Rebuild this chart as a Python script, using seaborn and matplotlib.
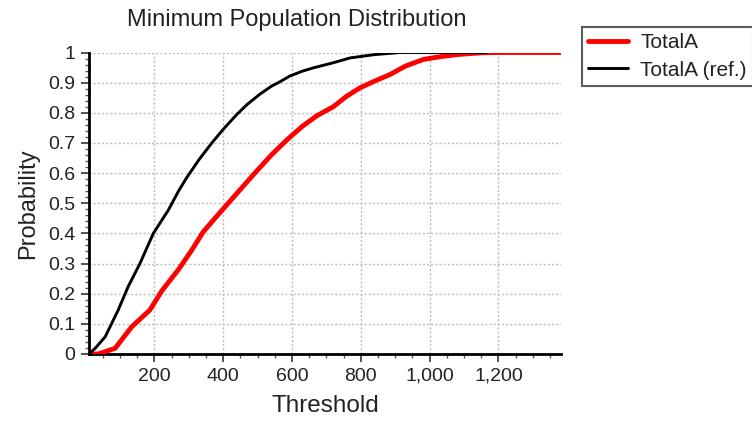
import matplotlib
matplotlib.use("Agg")
import matplotlib.pyplot as plt
import matplotlib.ticker as mticker
import seaborn as sns
import pandas as pd

# --- data ---
black_x = [10, 28, 57, 95, 124, 158, 197, 241, 270, 294, 330, 367, 400, 440, 470, 507,
           540, 565, 594, 630, 662, 720, 769, 840, 914, 1000, 1166]
black_y = [0, 0.019, 0.057, 0.146, 0.224, 0.30, 0.40, 0.478, 0.54, 0.585, 0.645, 0.70,
           0.745, 0.795, 0.828, 0.862, 0.888, 0.903, 0.922, 0.938, 0.949, 0.966, 0.982,
           0.993, 1.0, 1.0, 1.0]

red_x = [18, 37, 86, 134, 187, 222, 270, 309, 342, 376, 430, 488, 540, 585, 630, 672,
         720, 759, 798, 840, 885, 930, 982, 1030, 1079, 1147, 1200, 1382]
red_y = [0, 0, 0.019, 0.09, 0.146, 0.21, 0.28, 0.345, 0.405, 0.45, 0.52, 0.595, 0.66,
         0.71, 0.755, 0.79, 0.82, 0.855, 0.883, 0.905, 0.927, 0.955, 0.977, 0.986,
         0.993, 0.999, 1.0, 1.0]

series_names = ["TotalA", "TotalA (ref.)"]
x_ticks = [200, 400, 600, 800, 1000, 1200]
y_ticks = [0, 0.1, 0.2, 0.3, 0.4, 0.5, 0.6, 0.7, 0.8, 0.9, 1.0]
y_tick_labels = ["0", "0.1", "0.2", "0.3", "0.4", "0.5", "0.6", "0.7", "0.8", "0.9", "1"]

sns.set_theme(style="white")
plt.rcParams["font.family"] = ["Liberation Sans", "DejaVu Sans"]

red_df = pd.DataFrame({"Threshold": red_x, "Probability": red_y})
black_df = pd.DataFrame({"Threshold": black_x, "Probability": black_y})

fig = plt.figure(figsize=(7.52, 4.29), dpi=100)
ax = fig.add_axes([89 / 752, 1 - 354 / 429, (561 - 89) / 752, (354 - 52.5) / 429])

sns.lineplot(data=red_df, x="Threshold", y="Probability", ax=ax, color="#ff0000",
             linewidth=3.5, label=series_names[0], estimator=None, sort=False, zorder=3)
sns.lineplot(data=black_df, x="Threshold", y="Probability", ax=ax, color="#000000",
             linewidth=2.1, label=series_names[1], estimator=None, sort=False, zorder=4)

ax.set_xlim(10, 1382)
ax.set_ylim(0, 1)
ax.set_xticks(x_ticks)
ax.xaxis.set_major_formatter(mticker.FuncFormatter(lambda v, p: f"{int(v):,}"))
ax.set_yticks(y_ticks)
ax.set_yticklabels(y_tick_labels)
ax.xaxis.set_minor_locator(mticker.MultipleLocator(50))
ax.yaxis.set_minor_locator(mticker.MultipleLocator(0.02))

for s in ["top", "right"]:
    ax.spines[s].set_visible(False)
for s in ["left", "bottom"]:
    ax.spines[s].set_color("black")
    ax.spines[s].set_linewidth(2.0)

ax.tick_params(axis="both", which="major", direction="out", length=6, width=1.2,
               color="#333333", labelsize=14, labelcolor="#222222", pad=4,
               bottom=True, left=True)
ax.tick_params(axis="both", which="minor", direction="out", length=3, width=1.0,
               color="#555555", bottom=True, left=True)

ax.grid(True, which="major", linestyle=(0, (1.5, 1.5)), color="#bdbdbd", linewidth=1.0)
ax.set_axisbelow(True)

ax.set_xlabel("Threshold", fontsize=17.5, color="#222222", labelpad=7)
ax.set_ylabel("Probability", fontsize=17, color="#222222", labelpad=6)

fig.text(297 / 752, 1 - 20 / 429, "Minimum Population Distribution", fontsize=17,
         color="#222222", ha="center", va="center")

handles, labels = ax.get_legend_handles_labels()
ax.get_legend().remove()
leg = fig.legend(handles, labels, loc="upper left",
                 bbox_to_anchor=(582 / 752, 1 - 27 / 429), fontsize=15,
                 frameon=True, fancybox=False, edgecolor="#333333",
                 borderpad=0.3, handlelength=1.9, handletextpad=0.6,
                 labelspacing=0.4, borderaxespad=0)
leg.get_frame().set_linewidth(1.5)
for t in leg.get_texts():
    t.set_color("#222222")

fig.savefig("out.png", dpi=100)
